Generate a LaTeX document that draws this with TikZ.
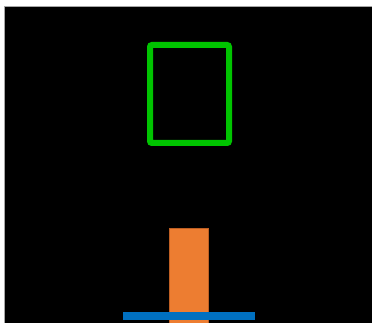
\documentclass[tikz,border=0pt]{standalone}
\definecolor{boxgreen}{RGB}{0,196,0}
\definecolor{barorange}{RGB}{237,125,49}
\definecolor{baredge}{RGB}{190,95,35}
\definecolor{barblue}{RGB}{0,112,192}
\begin{document}
\begin{tikzpicture}[x=1pt,y=-1pt,
  framebox/.style={draw=boxgreen,line width=6pt,rounded corners=2pt},
  orangebar/.style={fill=barorange,draw=baredge,line width=0.6pt},
  bluebar/.style={fill=barblue}]
\useasboundingbox (0,0) rectangle (372,323);
\fill[white] (0,0) rectangle (372,323);
\fill[black] (4,6.5) rectangle (372,323);
\draw[gray!70,line width=0.8pt] (4,323) -- (4,6.5) -- (372,6.5);
\draw[framebox] (150,45) rectangle (229,143);
\draw[orangebar] (169.5,228) rectangle (208.5,324);
\fill[bluebar] (122.5,312) rectangle (255,320);
\end{tikzpicture}
\end{document}
